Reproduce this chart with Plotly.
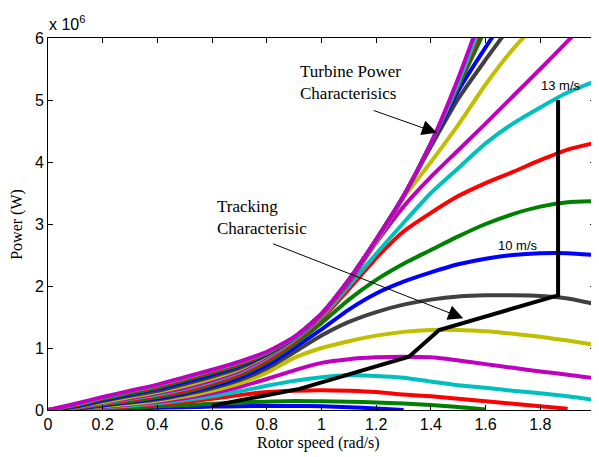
import plotly.graph_objects as go

# shared rotor-speed grid (rad/s)
X = [round(0.1 * i, 1) for i in range(21)]

# turbine power curves (x 1e6 W) for wind speeds 3..21 m/s
P3 = [0, .005, .015, .025, .035, .045, .055, .06, .065, .065, .06, .045, .025, 0.0] + [None] * 7
P4 = [0, .01, .025, .04, .06, .08, .10, .12, .135, .145, .14, .135, .12, .105, .08, .05, .01] + [None] * 4
P5 = [0, .01, .03, .06, .09, .13, .18, .24, .29, .31, .32, .31, .29, .25, .22, .18, .14, .10, .06, .02, None]
P6 = [0, .01, .04, .07, .11, .16, .22, .30, .39, .47, .53, .56, .55, .52, .46, .40, .36, .31, .27, .22, .16]
P7 = [0, .015, .05, .09, .13, .19, .27, .37, .50, .64, .76, .82, .85, .86, .85, .80, .74, .68, .62, .57, .51]
P8 = [0, .02, .06, .10, .15, .22, .31, .43, .60, .84, 1.0, 1.11, 1.2, 1.26, 1.29, 1.29, 1.27, 1.23, 1.18, 1.12, 1.05]
P9 = [0, .02, .07, .12, .17, .25, .35, .48, .67, .93, 1.2, 1.42, 1.58, 1.70, 1.78, 1.83, 1.85, 1.85, 1.84, 1.80, 1.71]
P10 = [0, .025, .08, .13, .19, .27, .38, .52, .72, 1.0, 1.3, 1.62, 1.88, 2.07, 2.22, 2.35, 2.44, 2.50, 2.53, 2.53, 2.50]
P11 = [0, .03, .09, .14, .21, .29, .41, .56, .77, 1.06, 1.40, 1.78, 2.10, 2.36, 2.58, 2.80, 3.0, 3.16, 3.28, 3.35, 3.37]
P12 = [0, .03, .10, .16, .23, .31, .43, .58, .80, 1.10, 1.47, 1.95, 2.45, 2.88, 3.18, 3.45, 3.66, 3.84, 4.03, 4.20, 4.31]
P13 = [0, .035, .11, .18, .25, .34, .46, .61, .84, 1.13, 1.50, 2.0, 2.52, 3.02, 3.50, 3.90, 4.30, 4.62, 4.88, 5.12, 5.30]
P14 = [0, .04, .12, .19, .27, .36, .48, .63, .86, 1.15, 1.52, 2.05, 2.70, 3.28, 3.76, 4.19, 4.62, 5.06, 5.50, 5.95, 6.4]
P15 = [0, .045, .13, .21, .29, .39, .51, .66, .88, 1.16, 1.53, 2.07, 2.72, 3.42, 4.0, 4.6, 5.25, 5.82, 6.3, None, None]
P16 = [0, .05, .145, .23, .31, .42, .54, .68, .89, 1.16, 1.54, 2.08, 2.74, 3.45, 4.25, 5.02, 5.65, 6.25] + [None] * 3
P17 = [0, .06, .16, .25, .34, .45, .57, .71, .90, 1.17, 1.55, 2.09, 2.75, 3.45, 4.28, 5.15, 5.85, 6.5] + [None] * 3
P18 = [0, .07, .175, .27, .36, .48, .60, .73, .91, 1.17, 1.55, 2.10, 2.75, 3.45, 4.30, 5.22, 6.15] + [None] * 4
P19 = [0, .08, .19, .29, .38, .50, .62, .75, .92, 1.17, 1.55, 2.10, 2.75, 3.45, 4.30, 5.26, 6.3] + [None] * 4
P20 = [0, .09, .20, .30, .40, .52, .64, .77, .93, 1.17, 1.55, 2.10, 2.75, 3.45, 4.30, 5.28, 6.4] + [None] * 4
P21 = [0, .10, .21, .31, .41, .53, .65, .78, .94, 1.18, 1.55, 2.10, 2.75, 3.45, 4.30, 5.35, 6.55] + [None] * 4

CURVES = [P3, P4, P5, P6, P7, P8, P9, P10, P11, P12, P13, P14, P15, P16, P17, P18, P19, P20, P21]
COLORS = ["#0000FF", "#008000", "#FF0000", "#00BFBF", "#BF00BF", "#BFBF00", "#404040"]

# tracking characteristic
TRACK_X = [0.6, 0.92, 1.32, 1.43, 1.865, 1.865]
TRACK_Y = [0.07, 0.34, 0.86, 1.29, 1.85, 5.0]

X_TICKS = [0, 0.2, 0.4, 0.6, 0.8, 1.0, 1.2, 1.4, 1.6, 1.8, 2.0]
X_TICKTEXT = ["0", "0.2", "0.4", "0.6", "0.8", "1", "1.2", "1.4", "1.6", "1.8", "2"]
Y_TICKS = [0, 1, 2, 3, 4, 5, 6]

fig = go.Figure()
for i, ys in enumerate(CURVES):
    fig.add_trace(go.Scatter(x=X, y=ys, mode="lines",
                             line=dict(color=COLORS[i % 7], width=4, shape="spline", smoothing=0.6),
                             showlegend=False, hoverinfo="skip"))
fig.add_trace(go.Scatter(x=TRACK_X, y=TRACK_Y, mode="lines",
                         line=dict(color="black", width=4),
                         showlegend=False, hoverinfo="skip"))

axis_common = dict(showline=True, linecolor="black", linewidth=1, mirror="ticks",
                   ticks="inside", ticklen=5, tickcolor="black", tickwidth=1,
                   showgrid=False, zeroline=False, automargin=False,
                   tickfont=dict(family="Liberation Sans", size=16, color="black"))

# page body adds an 8px offset, so the figure is sized 8px smaller
fig.update_layout(
    width=591, height=449,
    margin=dict(l=40, r=4, t=30, b=47, autoexpand=False),
    plot_bgcolor="white", paper_bgcolor="white",
    xaxis=dict(range=[0, 2], tickvals=X_TICKS, ticktext=X_TICKTEXT, **axis_common),
    yaxis=dict(range=[0, 6], tickvals=Y_TICKS, **axis_common),
)

serif = dict(family="Liberation Serif", size=17, color="black")
ann = [
    dict(text="Rotor speed (rad/s)", xref="paper", yref="paper", x=0.4945, y=-0.089,
         xanchor="center", yanchor="middle", showarrow=False,
         font=dict(family="Liberation Serif", size=16, color="black")),
    dict(text="Power (W)", xref="paper", yref="paper", x=-0.057, y=0.5, textangle=-90,
         xanchor="center", yanchor="middle", showarrow=False, borderpad=0,
         font=dict(family="Liberation Serif", size=16, color="black")),
    dict(text="x 10<sup>6</sup>", xref="paper", yref="paper", x=-0.002, y=1.04,
         xanchor="left", yanchor="middle", showarrow=False,
         font=dict(family="Liberation Sans", size=16, color="black")),
    dict(text="Turbine Power<br>Characterisics", x=0.914, y=5.28, xref="x", yref="y",
         xanchor="left", yanchor="middle", align="left", showarrow=False, font=serif),
    dict(text="Tracking<br>Characterisic", x=0.611, y=3.10, xref="x", yref="y",
         xanchor="left", yanchor="middle", align="left", showarrow=False, font=serif),
    dict(text="13 m/s", x=1.876, y=5.24, xref="x", yref="y", showarrow=False,
         font=dict(family="Liberation Sans", size=13, color="black")),
    dict(text="10 m/s", x=1.72, y=2.66, xref="x", yref="y", showarrow=False,
         font=dict(family="Liberation Sans", size=13, color="black")),
    dict(text="", x=1.422, y=4.47, ax=1.185, ay=4.84, xref="x", yref="y",
         axref="x", ayref="y", showarrow=True, arrowhead=2, arrowsize=3,
         arrowwidth=1, arrowcolor="black"),
    dict(text="", x=1.518, y=1.48, ax=0.818, ay=2.69, xref="x", yref="y",
         axref="x", ayref="y", showarrow=True, arrowhead=2, arrowsize=3,
         arrowwidth=1, arrowcolor="black"),
]
fig.update_layout(annotations=ann)

fig.write_html("out.html")
